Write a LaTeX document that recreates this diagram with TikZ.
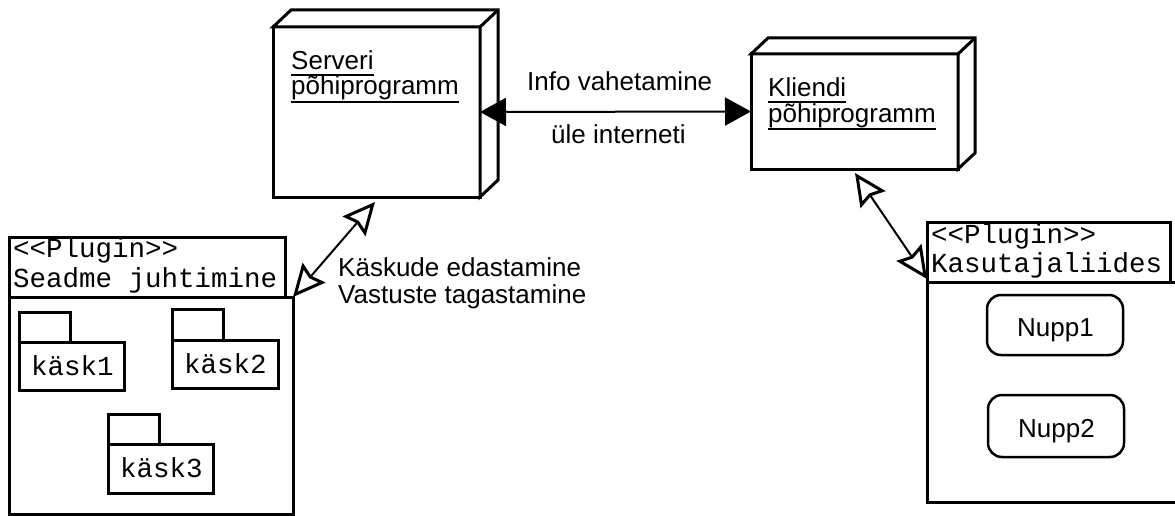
\documentclass[tikz,border=0pt]{standalone}
\usepackage{fontspec}
\setmainfont{Liberation Sans}
\setmonofont{Liberation Mono}
\usetikzlibrary{arrows.meta}
\begin{document}
\begin{tikzpicture}[x=1pt,y=-1pt,
  box/.style={draw, line width=3pt, outer sep=0pt, inner sep=0pt, fill=white},
  face/.style={draw, line width=3pt, line join=miter, fill=white},
  nupp/.style={draw, line width=2.5pt, rounded corners=14pt, outer sep=0pt, inner sep=0pt},
  sans/.style={inner sep=0pt, anchor=base west, font=\fontsize{26}{28}\selectfont},
  mono/.style={inner sep=0pt, anchor=base west, font=\ttfamily\fontsize{27.5}{30}\selectfont},
  ulin/.style={line width=1.5pt},
  filledarrow/.style={line width=2pt, {Triangle[length=26pt,width=28pt]}-{Triangle[length=26pt,width=28pt]}},
  openarrow/.style={line width=2pt, {Stealth[open, fill=white, line width=3pt, length=32pt, width=30pt, inset=4pt]}-{Stealth[open, fill=white, line width=3pt, length=32pt, width=30pt, inset=4pt]}}
]
\useasboundingbox[fill=white] (0,0) rectangle (1175,516);

% Server node (3D box)
\node[box, minimum width=207pt, minimum height=170pt] (srv) at (376.5,112) {};
\draw[face] (srv.north west) -- ++(18,-17) -- ++(207,0) -- ++(0,170) -- (srv.south east) -- (srv.north east) -- cycle;
\draw[line width=3pt] (srv.north east) -- ++(18,-17);
\node[sans] (s1) at (291,70) {Serveri};
\node[sans] (s2) at (291,95) {põhiprogramm};
\draw[ulin] ([yshift=-5pt]s1.base west) -- ([yshift=-5pt]s1.base east);
\draw[ulin] ([yshift=-7pt]s2.base west) -- ([yshift=-7pt]s2.base east);

% Client node (3D box)
\node[box, minimum width=207pt, minimum height=115pt] (cli) at (854.5,111.5) {};
\draw[face] (cli.north west) -- ++(17,-16) -- ++(207,0) -- ++(0,115) -- (cli.south east) -- (cli.north east) -- cycle;
\draw[line width=3pt] (cli.north east) -- ++(17,-16);
\node[sans] (c1) at (768,97) {Kliendi};
\node[sans] (c2) at (768,123) {põhiprogramm};
\draw[ulin] ([yshift=-5pt]c1.base west) -- ([yshift=-5pt]c1.base east);
\draw[ulin] ([yshift=-6pt]c2.base west) -- ([yshift=-6pt]c2.base east);

% Left plugin
\node[box, minimum width=276pt, minimum height=60pt] (lhead) at (147,267) {};
\node[box, minimum width=284pt, minimum height=217pt] (lbody) at (151,405.5) {};
\node[mono] (lh1) at (13,257) {<<Plugin>>};
\node[mono] (lh2) at (13,287) {Seadme juhtimine};

% packages
\node[box, minimum width=51pt, minimum height=30pt] (k1tab) at (44.5,327) {};
\node[box, minimum width=105pt, minimum height=48pt] (k1) at (71.5,366) {};
\node[mono] (k1t) at (31,375) {käsk1};
\node[box, minimum width=51pt, minimum height=31pt] (k2tab) at (197.5,324.5) {};
\node[box, minimum width=106pt, minimum height=48pt] (k2) at (225,364) {};
\node[mono] (k2t) at (184,373) {käsk2};
\node[box, minimum width=51pt, minimum height=30pt] (k3tab) at (133.5,429) {};
\node[box, minimum width=105pt, minimum height=49pt] (k3) at (160.5,468.5) {};
\node[mono] (k3t) at (120,477) {käsk3};

% Right plugin
\node[box, minimum width=243pt, minimum height=60pt] (rhead) at (1048.5,252) {};
\node[box, minimum width=262pt, minimum height=220pt] (rbody) at (1058,392) {};
\node[mono] (rh1) at (931,243) {<<Plugin>>};
\node[mono] (rh2) at (931,272) {Kasutajaliides};
\node[nupp, minimum width=136pt, minimum height=60pt] (n1) at (1055,325) {};
\node[sans] (n1t) at (1017,336) {Nupp1};
\node[nupp, minimum width=136pt, minimum height=62pt] (n2) at (1056,426) {};
\node[sans] (n2t) at (1018,437) {Nupp2};

% connectors
\draw[filledarrow] (srv.east) -- (cli.west);
\node[sans] (i1) at (527,91) {Info vahetamine};
\node[sans] (i2) at (551,143) {üle interneti};

\coordinate (sa) at (375,202);
\draw[openarrow] (sa) -- (lbody.north east);
\node[sans] (e1) at (338,276) {Käskude edastamine};
\node[sans] (e2) at (338,303) {Vastuste tagastamine};

\coordinate (ca) at (855,173);
\draw[openarrow] (ca) -- ([yshift=3pt]rhead.south west);
\end{tikzpicture}
\end{document}
